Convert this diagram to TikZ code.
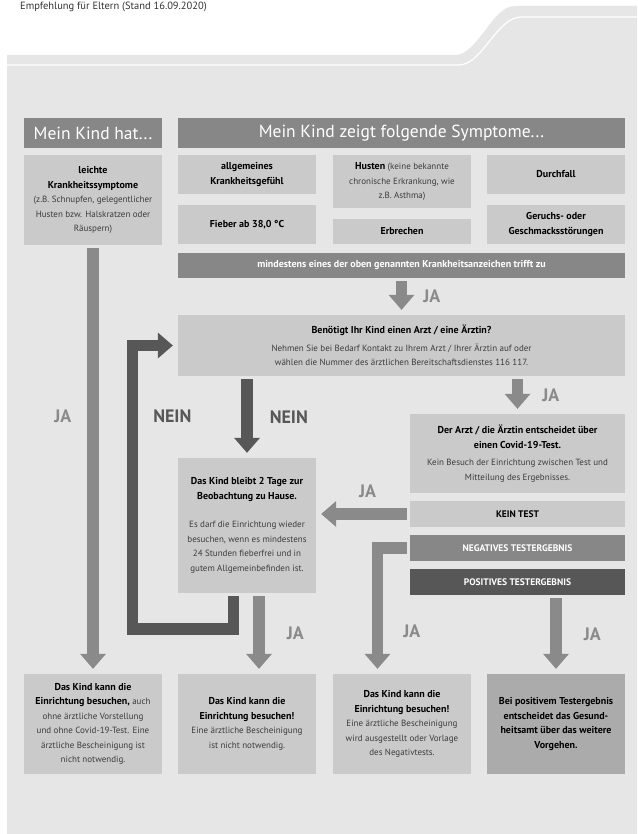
\documentclass[tikz,border=0pt]{standalone}
\usepackage{fontspec}
\setmainfont{PT Sans}
\usepackage{xcolor}
\usepackage{tikz}
\usetikzlibrary{arrows.meta,positioning,calc}
\definecolor{panelgray}{HTML}{E6E6E6}
\definecolor{boxgray}{HTML}{CACACA}
\definecolor{midgray}{HTML}{878787}
\definecolor{neingray}{HTML}{575757}
\definecolor{jagray}{HTML}{8A8A8A}
\definecolor{resultgray}{HTML}{ABABAB}
\definecolor{textgray}{HTML}{3C3C3C}
\definecolor{titlegray}{HTML}{333333}
\newcommand{\kopf}[1]{\textcolor{black}{\fontsize{10}{14.5}\selectfont\textbf{#1}}}
\tikzset{
  infobox/.style={fill=boxgray, text=textgray, align=center, inner sep=0pt, minimum width=138pt, font=\fontsize{9}{14.5}\selectfont},
  widebox/.style={infobox, minimum width=447pt},
  testbox/.style={infobox, minimum width=215pt, minimum height=26pt, font=\fontsize{9.5}{14.5}\selectfont\bfseries},
  header/.style={fill=midgray, text=white, inner sep=0pt, minimum height=30pt, font=\fontsize{17.5}{18}\selectfont},
  jaarrow/.style={draw=jagray, line width=11.5pt, line join=miter, -{Triangle[length=15pt,width=26pt,line width=0pt]}, shorten <=3pt, shorten >=5pt},
  neinarrow/.style={jaarrow, draw=neingray},
  jalabel/.style={text=jagray, inner sep=0pt, font=\fontsize{18}{18}\selectfont\bfseries},
  neinlabel/.style={jalabel, text=neingray}
}

\begin{document}
\begin{tikzpicture}[x=1pt, y=1pt]
  \useasboundingbox (0,0) rectangle (637,-834);
  \fill[white] (0,0) rectangle (637,-834);
  % Hintergrund
  \fill[panelgray] (7,-834) -- (7,-55) -- (455,-55) .. controls (478,-55) and (492,-6) .. (515,-6) -- (637,-6) -- (637,-834) -- cycle;
  \draw[white, line width=1.2pt] (7,-65) -- (459,-65) .. controls (482,-65) and (497,-17) .. (521,-17) -- (637,-17);
  \node[anchor=base west, inner sep=0pt, text=titlegray, font=\fontsize{10.5}{12}\selectfont] (titel) at (20,-10) {Empfehlung für Eltern (Stand 16.09.2020)};

  \node[header, minimum width=138pt] (hat) at (93,-133) {Mein Kind hat...};
  \node[header, minimum width=447pt] (zeigt) at (401.5,-133) {Mein Kind zeigt folgende Symptome...};

  % Symptome
  \node[infobox, minimum height=90pt] (leicht) at (93,-200) {\kopf{leichte}\\\kopf{Krankheitssymptome}\\(z.B. Schnupfen, gelegentlicher\\Husten bzw. Halskratzen oder\\Räuspern)};
  \node[infobox, minimum height=39pt] (allgemein) at (247,-174.5) {\kopf{allgemeines}\\\kopf{Krankheitsgefühl}};
  \node[infobox, minimum height=39pt] (fieber) at (247,-224.5) {\kopf{Fieber ab 38,0 °C}};
  \node[infobox, minimum height=53pt] (husten) at (402,-181.5) {\kopf{Husten} (keine bekannte\\chronische Erkrankung, wie\\z.B. Asthma)};
  \node[infobox, minimum height=25pt] (erbrechen) at (402,-231.5) {\kopf{Erbrechen}};
  \node[infobox, minimum height=39pt] (durchfall) at (556,-174.5) {\kopf{Durchfall}};
  \node[infobox, minimum height=39pt] (geruch) at (556,-224.5) {\kopf{Geruchs- oder}\\\kopf{Geschmacksstörungen}};

  \node[widebox, fill=midgray, text=white, minimum height=25pt, font=\fontsize{10}{14.5}\selectfont\bfseries] (mindest) at (401.5,-265.5) {mindestens eines der oben genannten Krankheitsanzeichen trifft zu};
  \node[widebox, minimum height=61pt] (frage) at (401.5,-345.5) {\kopf{Benötigt Ihr Kind einen Arzt / eine Ärztin?}\\[3pt]Nehmen Sie bei Bedarf Kontakt zu Ihrem Arzt / Ihrer Ärztin auf oder\\wählen die Nummer des ärztlichen Bereitschaftsdienstes 116 117.};

  \node[infobox, minimum height=135pt] (zuhause) at (247,-525.5) {\kopf{Das Kind bleibt 2 Tage zur}\\\kopf{Beobachtung zu Hause.}\\[14pt]Es darf die Einrichtung wieder\\besuchen, wenn es mindestens\\24 Stunden fieberfrei und in\\gutem Allgemeinbefinden ist.};
  \node[infobox, minimum width=215pt, minimum height=79pt] (arzt) at (517.5,-453.5) {\kopf{Der Arzt / die Ärztin entscheidet über}\\\kopf{einen Covid-19-Test.}\\[3pt]Kein Besuch der Einrichtung zwischen Test und\\Mitteilung des Ergebnisses.};
  \node[testbox, text=black] (keintest) at (517.5,-514) {KEIN TEST};
  \node[testbox, fill=midgray, text=white] (negativ) at (517.5,-548) {NEGATIVES TESTERGEBNIS};
  \node[testbox, fill=neingray, text=white] (positiv) at (517.5,-582) {POSITIVES TESTERGEBNIS};

  % Ergebnisse
  \node[infobox, minimum height=100pt] (besuchA) at (93,-724) {\kopf{Das Kind kann die}\\\kopf{Einrichtung besuchen,} auch\\ohne ärztliche Vorstellung\\und ohne Covid-19-Test. Eine\\ärztliche Bescheinigung ist\\nicht notwendig.};
  \node[infobox, minimum height=100pt] (besuchB) at (247,-724) {\kopf{Das Kind kann die}\\\kopf{Einrichtung besuchen!}\\Eine ärztliche Bescheinigung\\ist nicht notwendig.};
  \node[infobox, minimum height=100pt] (besuchC) at (402,-724) {\kopf{Das Kind kann die}\\\kopf{Einrichtung besuchen!}\\Eine ärztliche Bescheinigung\\wird ausgestellt oder Vorlage\\des Negativtests.};
  \node[infobox, fill=resultgray, minimum height=100pt] (amt) at (556,-724) {\kopf{Bei positivem Testergebnis}\\\kopf{entscheidet das Gesund-}\\\kopf{heitsamt über das weitere}\\\kopf{Vorgehen.}};

  \coordinate (schleife) at (132.5,-629);

  \draw[jaarrow] (mindest) -- node[jalabel, right=16pt] {JA} (frage);
  \draw[jaarrow] (leicht) -- node[jalabel, pos=0.4, left=16pt] {JA} (besuchA);
  \draw[neinarrow] (zuhause |- frage.south) -- node[neinlabel, right=17pt] {NEIN} (zuhause);
  \draw[jaarrow] (arzt |- frage.south) -- node[jalabel, right=19pt] {JA} (arzt);
  \draw[jaarrow] (keintest) -- node[jalabel, pos=0.45, above=11pt] {JA} (zuhause.east |- keintest);
  \draw[neinarrow] ([xshift=-13.5pt]zuhause.south) |- (schleife) |- node[neinlabel, pos=0.375, right=15pt] {NEIN} (frage.west);
  \draw[jaarrow] ([xshift=12pt]zuhause.south) -- node[jalabel, right=22pt] {JA} ([xshift=12pt]besuchB.north);
  \draw[jaarrow] (negativ.west) -| node[jalabel, pos=0.83, right=20pt] {JA} ([xshift=-24.5pt]besuchC.north);
  \draw[jaarrow] (amt |- positiv.south) -- node[jalabel, right=22pt] {JA} (amt);
\end{tikzpicture}
\end{document}
